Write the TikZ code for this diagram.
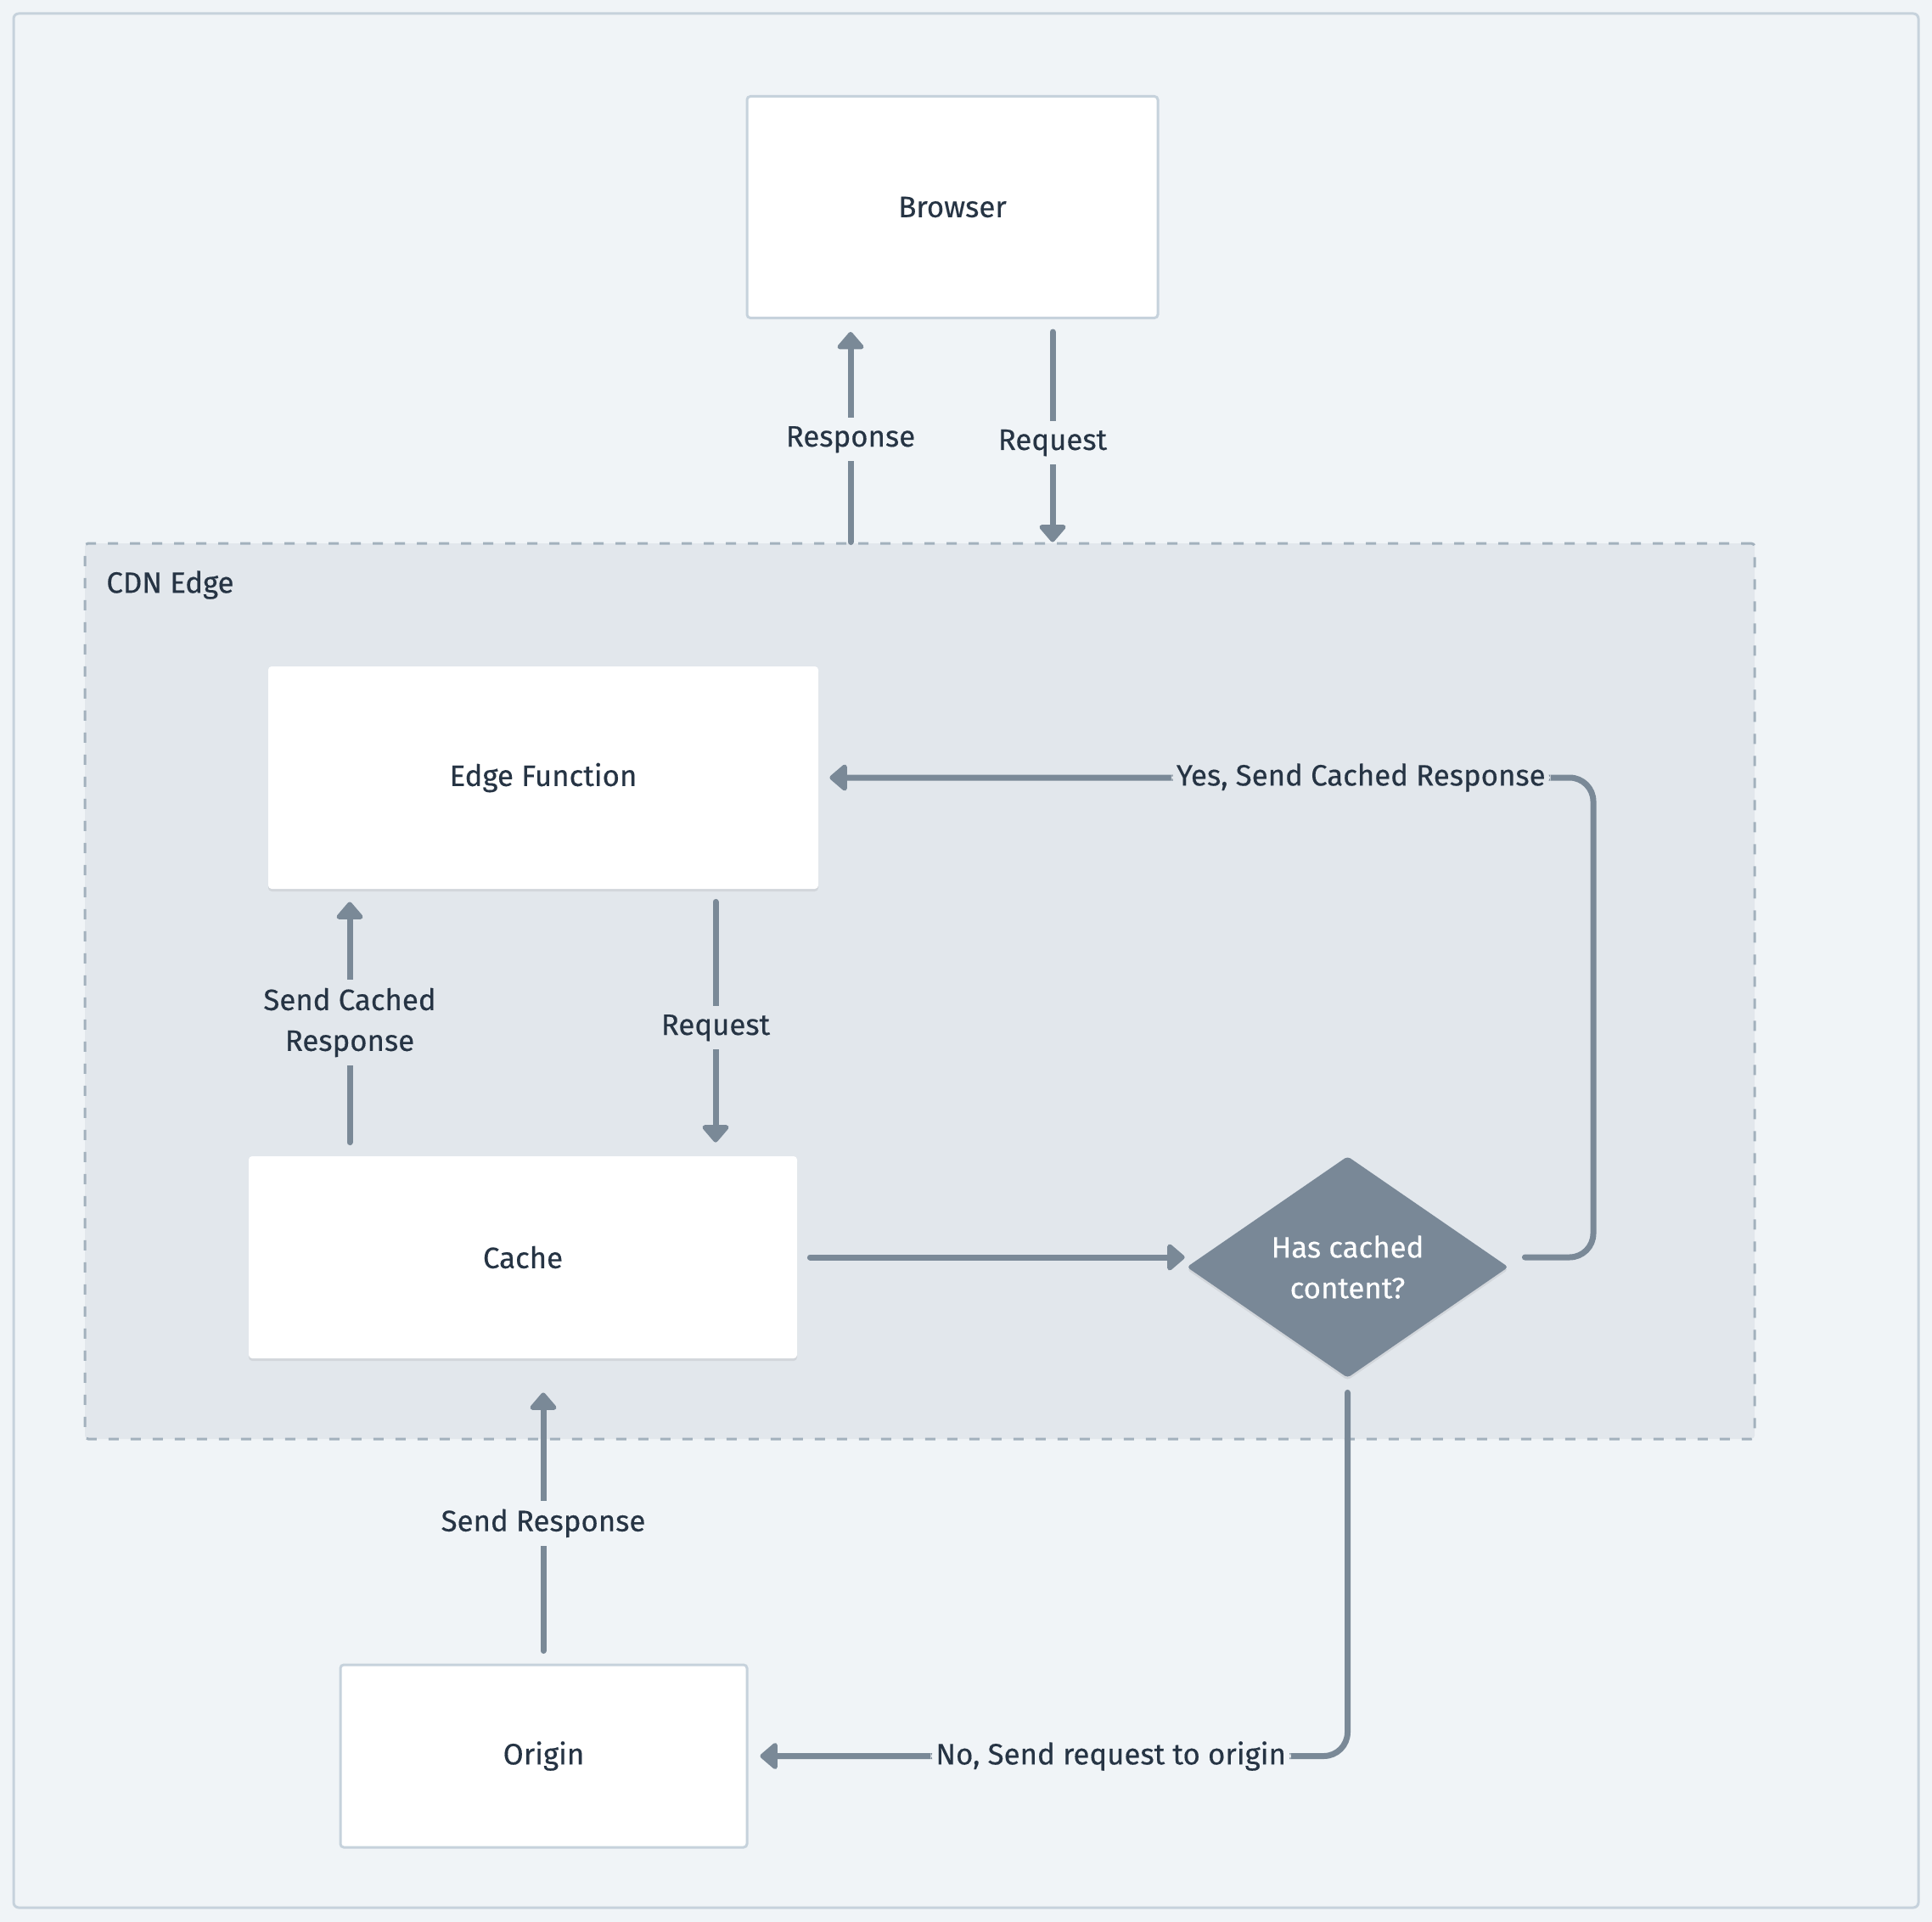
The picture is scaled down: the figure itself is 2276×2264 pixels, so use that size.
\documentclass[tikz,border=0pt]{standalone}
\usepackage{fontspec}
\setmainfont{Fira Sans}[FakeBold=0.35]
\usetikzlibrary{shapes.geometric,arrows.meta,shadows}
\definecolor{pagebg}{HTML}{F0F4F7}
\definecolor{framec}{HTML}{C6D2DC}
\definecolor{cdnfill}{HTML}{E2E7EC}
\definecolor{cdndash}{HTML}{A3B1BD}
\definecolor{arrowc}{HTML}{7A8997}
\definecolor{textc}{HTML}{263444}
\definecolor{diamc}{HTML}{798897}
\tikzset{
  txt/.style={font=\fontsize{17.4}{24}\selectfont, text=textc},
  box/.style={txt, rectangle, fill=white, rounded corners=2pt, inner sep=0pt},
  bordered/.style={draw=framec, line width=1.5pt},
  softshadow/.style={drop shadow={shadow xshift=0pt, shadow yshift=-1.5pt, opacity=0.07, fill=black}},
  arr/.style={draw=arrowc, line width=3.5pt, line cap=round, line join=round,
    -{Triangle[width=18pt,length=11pt,round]}},
  lbl/.style={txt, inner xsep=3pt, inner ysep=5pt, align=center},
  lblout/.style={lbl, fill=pagebg},
  lblin/.style={lbl, fill=cdnfill},
}
\begin{document}
\begin{tikzpicture}[x=0.5pt,y=-0.5pt]
\useasboundingbox (0,0) rectangle (2276,2264);
\fill[pagebg] (0,0) rectangle (2276,2264);
\draw[framec, line width=1.5pt, rounded corners=3pt] (16,16) rectangle (2260,2247);

% CDN group
\node[draw=cdndash, fill=cdnfill, line width=1.5pt, dash pattern=on 6pt off 7pt,
      minimum width=983.5pt, minimum height=527.5pt, inner sep=0pt, rounded corners=2pt]
      (cdn) at (1083.5,1167.5) {};
\node[txt, anchor=west, inner sep=0pt] (cdnlabel) at (125,689) {CDN Edge};

% nodes
\node[box, bordered, minimum width=242pt, minimum height=130.5pt] (browser) at (1122,244) {Browser};
\node[box, softshadow, minimum width=324pt, minimum height=131pt] (ef) at (640,916) {Edge Function};
\node[box, softshadow, minimum width=323pt, minimum height=119pt] (cache) at (616,1481) {Cache};
\node[box, bordered, minimum width=239.5pt, minimum height=107.5pt] (origin) at (640.5,2068.5) {Origin};
\node[shape=diamond, fill=diamc, softshadow, inner sep=0pt, minimum width=189.5pt, minimum height=130.5pt,
      rounded corners=2pt, txt, text=white, align=center] (dec) at (1587.5,1492.5)
      {Has cached\\content?};

% x positions of vertical connectors
\coordinate (rx) at (1002,0);
\coordinate (qx) at (1240,0);
\coordinate (sx) at (412,0);
\coordinate (ix) at (843,0);
\coordinate (ox) at (640,0);
\coordinate (yx) at (1877,0);

% Browser <-> CDN
\draw[arr, shorten >=7.5pt] (cdn.north -| rx) -- node[lblout, pos=0.46] {Response} (browser.south -| rx);
\draw[arr, shorten <=7.5pt] (browser.south -| qx) -- node[lblout, pos=0.555] {Request} (cdn.north -| qx);

% Edge function <-> cache
\draw[arr, shorten <=7.5pt, shorten >=8pt] (ef.south -| ix) -- node[lblin, pos=0.52] {Request} (cache.north -| ix);
\draw[arr, shorten <=8pt, shorten >=7.5pt] (cache.north -| sx) -- node[lblin, pos=0.5] {Send Cached\\Response} (ef.south -| sx);

% Origin -> cache
\draw[arr, shorten <=7.5pt, shorten >=20pt] (origin.north -| ox) -- node[lblout, pos=0.46] {Send Response} (cache.south -| ox);

% Cache -> decision
\draw[arr, shorten <=7.5pt, shorten >=1pt] (cache.east) -- (cache.east -| dec.west);

% Yes path
\draw[arr, rounded corners=14pt, shorten <=9.5pt, shorten >=6.5pt]
  (cache.east -| dec.east) -- (cache.east -| yx) -- (ef.east -| yx) -- node[lblin, pos=0.3, inner ysep=2pt] {Yes, Send Cached Response} (ef.east);

% No path
\draw[arr, rounded corners=14pt, shorten <=8.5pt, shorten >=7pt]
  (dec.south) -- (dec.south |- origin.east) -- node[lblout, pos=0.395, inner ysep=2pt] {No, Send request to origin} (origin.east);
\end{tikzpicture}
\end{document}
